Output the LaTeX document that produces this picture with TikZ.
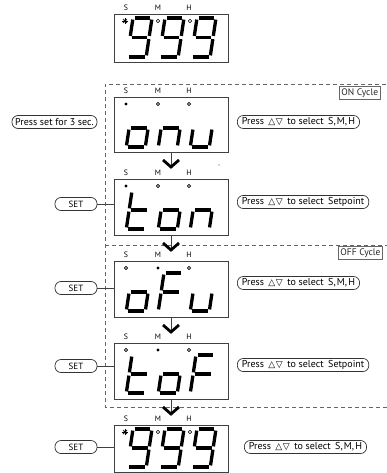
\documentclass[tikz,border=0pt]{standalone}
\usepackage{fontspec}
\setmainfont{PT Sans}
\newfontfamily\symf{DejaVu Sans}
\def\dw{19}\def\gp{1.6}
\newcommand\drawseg[2]{% #1 segment letter, #2 height
  \pgfmathsetmacro\hh{#2/2}%
  \if#1a\draw[seg] (\gp,0) -- ({\dw-\gp},0);\fi
  \if#1b\draw[seg] (\dw,\gp) -- (\dw,{\hh-\gp});\fi
  \if#1c\draw[seg] (\dw,{\hh+\gp}) -- (\dw,{#2-\gp});\fi
  \if#1d\draw[seg] (\gp,#2) -- ({\dw-\gp},#2);\fi
  \if#1e\draw[seg] (0,{\hh+\gp}) -- (0,{#2-\gp});\fi
  \if#1f\draw[seg] (0,\gp) -- (0,{\hh-\gp});\fi
  \if#1g\draw[seg] (\gp,\hh) -- ({\dw-\gp},\hh);\fi}
\newcommand\sdigit[4]{% x, y top, height, segments
  \begin{scope}[shift={(#1,#2)},xslant=0.15]
    \foreach \s in {#4}{\drawseg{\s}{#3}}
  \end{scope}}
\newcommand\sunmark[2]{%
  \fill[black] (#1,#2) circle (1.6);
  \foreach \r in {0,45,...,315}{\draw[line width=0.7] ([shift={(\r:1.4)}]#1,#2) -- ([shift={(\r:2.9)}]#1,#2);}}
\newcommand\tri{{\symf\fontsize{9}{10}\selectfont △\kern0.5pt▽}}
\newcommand\gapsp{\hspace{4.5pt}}
\newcommand\smh{S,\kern1.2pt M,\kern1.2pt H}
\tikzset{
  seg/.style={line width=3.3, line cap=butt},
  dispbox/.style={draw=black!75, line width=0.8, minimum width=114pt, inner sep=0pt},
  pill/.style={draw=black!80, line width=0.7, rounded corners=6pt, minimum height=13pt, inner sep=2pt, font=\fontsize{10}{11}\selectfont},
  rpill/.style={pill, anchor=west, inner xsep=4.5pt},
  setpill/.style={pill, minimum width=42pt, font=\fontsize{9}{10}\selectfont},
  lbl/.style={font=\fontsize{7.8}{8}\selectfont, inner sep=0pt},
  cyc/.style={draw=black!60, line width=0.9, minimum height=12pt, inner sep=2pt, anchor=north west, font=\fontsize{9.5}{10}\selectfont, text=black!85},
  dashline/.style={draw=black!60, line width=0.8, dash pattern=on 4pt off 3pt},
  conn/.style={draw=black!75, line width=0.7},
  chev/.style={line width=2.8, line cap=butt, line join=miter},
  opendot/.style={draw, line width=0.6},
}
\begin{document}
\begin{tikzpicture}[x=1pt,y=-1pt]
\useasboundingbox (0,0) rectangle (387,473);
% dashed cycle frames
\draw[dashline] (400,84) -- (105,84) -- (105,407) -- (400,407);
\draw[dashline] (105,245) -- (400,245);
\node[cyc] (oncyc) at (339,86) {ON Cycle\hspace{6pt}};
\node[cyc] (offcyc) at (338,246) {OFF Cycle\hspace{4pt}};
% displays
\node[dispbox, minimum height=48pt] (d0) at (171,38) {};
\node[dispbox, minimum height=55pt] (d1) at (171,124.5) {};
\node[dispbox, minimum height=56pt] (d2) at (171,207) {};
\node[dispbox, minimum height=56pt] (d3) at (171,289) {};
\node[dispbox, minimum height=56pt] (d4) at (171,371) {};
\node[dispbox, minimum height=47pt] (d5) at (171,449) {};
% S M H labels
\foreach \T/\n in {14/0,97/1,179/2,261/3,343/4,425/5}{
  \node[lbl] (s\n) at (126,\T-6) {S};
  \node[lbl] (m\n) at (158,\T-6) {M};
  \node[lbl] (h\n) at (189,\T-6) {H};
}
% indicators
\sunmark{125}{21}
\draw[opendot] (158,21) circle (1.7); \draw[opendot] (190,21) circle (1.7);
\sunmark{125}{432}
\draw[opendot] (158,432) circle (1.7); \draw[opendot] (190,432) circle (1.7);
\fill (126,104) circle (1.7); \draw[opendot] (158,104) circle (1.6); \draw[opendot] (189,104) circle (1.6);
\fill (126,186) circle (1.7); \draw[opendot] (158,186) circle (1.6); \draw[opendot] (189,186) circle (1.6);
\draw[opendot] (126,268) circle (1.6); \fill (158,268) circle (1.7); \draw[opendot] (189,268) circle (1.6);
\draw[opendot] (126,350) circle (1.6); \fill (158,350) circle (1.7); \draw[opendot] (189,350) circle (1.6);
% digits
\sdigit{133}{18}{39}{a,b,c,d,f,g}\sdigit{165}{18}{39}{a,b,c,d,f,g}\sdigit{197}{18}{39}{a,b,c,d,f,g}
\sdigit{132}{109}{38}{c,d,e,g}\sdigit{164}{109}{38}{c,e,g}\sdigit{196}{109}{38}{c,d,e}
\sdigit{132}{191}{38}{d,e,f,g}\sdigit{164}{191}{38}{c,d,e,g}\sdigit{196}{191}{38}{c,e,g}
\sdigit{132}{273}{38}{c,d,e,g}\sdigit{164}{273}{38}{a,e,f,g}\sdigit{196}{273}{38}{c,d,e}
\sdigit{132}{355}{38}{d,e,f,g}\sdigit{164}{355}{38}{c,d,e,g}\sdigit{196}{355}{38}{a,e,f,g}
\sdigit{133}{429}{38}{a,b,c,d,f,g}\sdigit{165}{429}{38}{a,b,c,d,f,g}\sdigit{197}{429}{38}{a,b,c,d,f,g}
% flow connectors with chevrons
\coordinate (t2) at (171,167);
\coordinate (t3) at (171,250);
\coordinate (t4) at (171,332);
\coordinate (t5) at (171,414);
\foreach \a/\b in {d1/t2,d2/t3,d3/t4,d4/t5}{
  \draw[conn] (\a.south) -- (\b);
  \draw[chev] ([shift={(-8,-7)}]\b) -- (\b) -- ([shift={(8,-7)}]\b);
}
% left pills
\node[pill, minimum width=85pt, inner sep=1pt] (p1) at (54.5,122) {Press set for 3 sec.};
\node[setpill] (set2) at (76,204) {SET};
\node[setpill] (set3) at (76,288) {SET};
\node[setpill] (set4) at (76,366) {SET};
\node[setpill] (set5) at (76,447) {SET};
\draw[conn] (set2.east) -- (set2.east -| d2.west);
\draw[conn] (set3.east) -- (set3.east -| d3.west);
\draw[conn] (set4.east) -- (set4.east -| d4.west);
\draw[conn] (set5.east) -- (set5.east -| d5.west);
% right pills
\node[rpill] (r1) at (237,122) {Press\gapsp\tri\gapsp to select\gapsp\smh};
\node[rpill] (r2) at (237,202) {Press\gapsp\tri\gapsp to select\gapsp Setpoint};
\node[rpill] (r3) at (237,283) {Press\gapsp\tri\gapsp to select\gapsp\smh};
\node[rpill] (r4) at (237,365) {Press\gapsp\tri\gapsp to select\gapsp Setpoint};
\node[rpill] (r5) at (244,447) {Press\gapsp\tri\gapsp to select\gapsp\smh};
% stray dot
\fill[black!70] (219,165) circle (0.6);
\end{tikzpicture}
\end{document}
